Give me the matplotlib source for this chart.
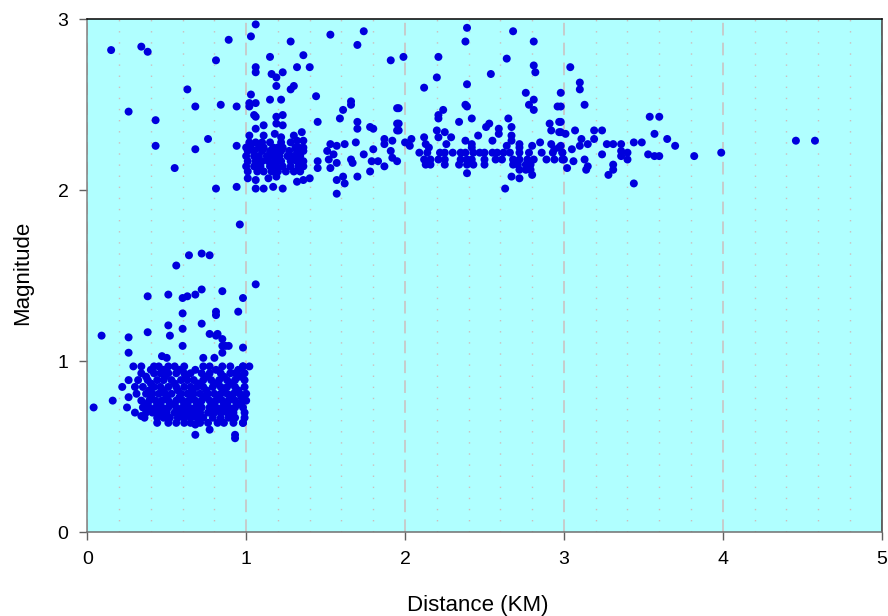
import numpy as np
import matplotlib
matplotlib.use("Agg")
import matplotlib.pyplot as plt
from matplotlib.ticker import MultipleLocator

plt.rcParams["font.family"] = ["Liberation Sans", "DejaVu Sans"]

# scattered points below 2 (near cluster)
low_sparse = [
    (0.04, 0.73), (0.16, 0.77), (0.22, 0.85), (0.26, 0.89), (0.26, 1.05), (0.26, 0.79),
    (0.25, 0.73), (0.30, 0.70), (0.34, 0.68), (0.09, 1.15), (0.26, 1.14), (0.38, 1.17),
    (0.38, 1.38), (0.51, 1.39), (0.51, 1.21), (0.52, 1.15), (0.56, 1.56), (0.64, 1.62),
    (0.72, 1.63), (0.77, 1.62), (0.60, 1.37), (0.63, 1.38), (0.68, 1.39), (0.72, 1.42),
    (0.85, 1.41), (0.98, 1.37), (1.06, 1.45), (0.60, 1.28), (0.81, 1.29), (0.81, 1.27),
    (0.95, 1.29), (0.72, 1.22), (0.60, 1.19), (0.77, 1.16), (0.81, 1.15), (0.82, 1.16),
    (0.85, 1.13), (0.60, 1.09), (0.85, 1.09), (0.89, 1.09), (0.98, 1.08), (0.47, 1.03),
    (0.50, 1.02), (0.73, 1.02), (0.80, 1.02), (0.85, 1.05), (0.87, 1.09), (0.98, 0.97),
    (1.02, 0.97), (0.68, 0.63), (0.77, 0.60), (0.68, 0.57), (0.93, 0.57), (0.93, 0.55),
    (0.98, 0.64), (0.96, 1.80),
]

# dense lower cluster, magnitude -> distances
low_rows = {
    0.97: [0.29, 0.34, 0.42, 0.45, 0.51, 0.55, 0.61, 0.73, 0.77, 0.85, 0.90, 0.98],
    0.95: [0.40, 0.48, 0.58, 0.68, 0.81, 0.95],
    0.93: [0.34, 0.42, 0.46, 0.51, 0.56, 0.61, 0.65, 0.72, 0.77, 0.84, 0.90, 0.93, 0.99],
    0.91: [0.37, 0.49, 0.62, 0.75, 0.86, 0.96],
    0.89: [0.32, 0.38, 0.44, 0.48, 0.53, 0.59, 0.63, 0.67, 0.73, 0.78, 0.83, 0.88, 0.93, 0.99],
    0.87: [0.40, 0.55, 0.70, 0.81, 0.91],
    0.85: [0.30, 0.35, 0.42, 0.46, 0.51, 0.56, 0.61, 0.65, 0.69, 0.73, 0.79, 0.84, 0.88, 0.93, 0.99],
    0.83: [0.39, 0.48, 0.57, 0.66, 0.75, 0.86, 0.95],
    0.81: [0.31, 0.37, 0.41, 0.45, 0.49, 0.53, 0.59, 0.63, 0.67, 0.71, 0.76, 0.80, 0.84, 0.88, 0.92, 0.96, 1.00],
    0.79: [0.40, 0.50, 0.58, 0.66, 0.74, 0.82, 0.90, 0.97],
    0.77: [0.34, 0.39, 0.43, 0.47, 0.51, 0.56, 0.60, 0.64, 0.68, 0.72, 0.77, 0.81, 0.85, 0.89, 0.93, 0.98, 1.00],
    0.75: [0.37, 0.45, 0.53, 0.62, 0.70, 0.79, 0.87, 0.95],
    0.73: [0.35, 0.39, 0.43, 0.47, 0.51, 0.56, 0.60, 0.64, 0.68, 0.72, 0.77, 0.81, 0.85, 0.89, 0.93, 0.98],
    0.71: [0.47, 0.57, 0.69, 0.78, 0.90],
    0.70: [0.37, 0.41, 0.45, 0.50, 0.55, 0.59, 0.63, 0.67, 0.71, 0.76, 0.80, 0.84, 0.88, 0.92, 0.99],
    0.67: [0.36, 0.44, 0.48, 0.52, 0.57, 0.61, 0.65, 0.69, 0.73, 0.79, 0.84, 0.89, 0.93, 0.99],
    0.64: [0.44, 0.51, 0.56, 0.61, 0.65, 0.71, 0.76, 0.82, 0.86, 0.92, 0.98],
}

# scattered points at 2-3, below 1 km
up_left = [
    (0.15, 2.82), (0.34, 2.84), (0.38, 2.81), (0.89, 2.88), (0.81, 2.76), (0.63, 2.59),
    (0.26, 2.46), (0.43, 2.41), (0.68, 2.49), (0.84, 2.50), (0.94, 2.49), (0.76, 2.30),
    (0.43, 2.26), (0.68, 2.24), (0.94, 2.26), (0.55, 2.13), (0.81, 2.01), (0.94, 2.02),
]

# 1-2 km band
band_1_2 = [
    (1.06, 2.97), (1.03, 2.90), (1.28, 2.87), (1.53, 2.91), (1.74, 2.93), (1.70, 2.85),
    (1.91, 2.76), (1.15, 2.78), (1.36, 2.79), (1.06, 2.72), (1.06, 2.69), (1.32, 2.72),
    (1.40, 2.72), (1.16, 2.68), (1.19, 2.66), (1.23, 2.69), (1.19, 2.61), (1.28, 2.59),
    (1.30, 2.61), (1.03, 2.56), (1.44, 2.55), (1.15, 2.53), (1.22, 2.53), (1.02, 2.51),
    (1.06, 2.51), (1.66, 2.52), (1.66, 2.50), (1.02, 2.49), (1.95, 2.48), (1.05, 2.44),
    (1.06, 2.43), (1.19, 2.43), (1.23, 2.44), (1.61, 2.47), (1.59, 2.42), (1.45, 2.40),
    (1.70, 2.40), (1.95, 2.39), (1.11, 2.38), (1.19, 2.39), (1.23, 2.38), (1.06, 2.36),
    (1.70, 2.36), (1.78, 2.37), (1.80, 2.36), (1.95, 2.35), (1.02, 2.32), (1.11, 2.32),
    (1.18, 2.33), (1.22, 2.31), (1.30, 2.32), (1.35, 2.34), (1.32, 2.29), (1.36, 2.29),
    (1.53, 2.27), (1.57, 2.26), (1.62, 2.27), (1.69, 2.28), (1.87, 2.30), (1.92, 2.29),
    (1.87, 2.27), (1.51, 2.23), (1.55, 2.21), (1.45, 2.17), (1.45, 2.13), (1.52, 2.18),
    (1.53, 2.13), (1.57, 2.16), (1.66, 2.18), (1.67, 2.16), (1.74, 2.21), (1.80, 2.24),
    (1.79, 2.17), (1.83, 2.17), (1.87, 2.14), (1.91, 2.23), (1.92, 2.19), (1.95, 2.17),
    (1.78, 2.11), (1.70, 2.08), (1.57, 2.06), (1.61, 2.08), (1.62, 2.04), (1.57, 1.98),
    (1.40, 2.07), (1.36, 2.06), (1.32, 2.05), (1.23, 2.01), (1.17, 2.02), (1.11, 2.01),
    (1.06, 2.01), (1.01, 2.07), (1.06, 2.06), (1.14, 2.07), (1.19, 2.08),
]

band_rows = {
    2.28: [1.02, 1.06, 1.10, 1.15, 1.22, 1.28],
    2.25: [1.00, 1.03, 1.08, 1.11, 1.17, 1.20, 1.23, 1.31, 1.33, 1.36],
    2.23: [1.01, 1.05, 1.10, 1.15, 1.19, 1.22, 1.27, 1.32, 1.36],
    2.20: [1.00, 1.05, 1.08, 1.13, 1.17, 1.21, 1.26, 1.30, 1.34],
    2.17: [1.01, 1.06, 1.10, 1.14, 1.18, 1.22, 1.28, 1.32, 1.36],
    2.14: [1.00, 1.05, 1.09, 1.15, 1.19, 1.23, 1.28, 1.33, 1.36],
    2.11: [1.01, 1.07, 1.11, 1.16, 1.20, 1.25, 1.30, 1.34],
    # 2-3 km band
    2.22: [2.09, 2.14, 2.22, 2.25, 2.30, 2.35, 2.38, 2.43, 2.47, 2.50, 2.55, 2.58,
           2.62, 2.66, 2.72, 2.78, 2.86, 2.93, 2.99],
    2.18: [2.12, 2.16, 2.21, 2.25, 2.35, 2.39, 2.42, 2.50, 2.57, 2.61, 2.68, 2.72,
           2.77, 2.81, 2.89, 2.94, 3.00],
    2.15: [2.13, 2.16, 2.25, 2.34, 2.39, 2.43, 2.50, 2.68, 2.71, 2.76, 2.79],
}

# 2-3 km band, scattered
band_2_3 = [
    (2.39, 2.95), (2.38, 2.87), (2.68, 2.93), (2.81, 2.87), (1.99, 2.78), (2.21, 2.78),
    (2.64, 2.77), (2.81, 2.73), (2.82, 2.69), (2.20, 2.66), (2.54, 2.68), (2.39, 2.62),
    (2.12, 2.60), (2.76, 2.57), (2.98, 2.57), (2.38, 2.50), (2.39, 2.49), (1.96, 2.48),
    (2.24, 2.47), (2.21, 2.44), (2.21, 2.42), (2.78, 2.50), (2.81, 2.53), (2.81, 2.47),
    (2.96, 2.49), (2.42, 2.42), (2.34, 2.40), (1.96, 2.39), (1.96, 2.35), (2.65, 2.42),
    (2.67, 2.37), (2.53, 2.39), (2.51, 2.37), (2.59, 2.36), (2.91, 2.39), (2.97, 2.40),
    (2.92, 2.35), (2.97, 2.34), (2.20, 2.35), (2.25, 2.34), (2.21, 2.31), (2.29, 2.31),
    (2.46, 2.32), (2.55, 2.29), (2.59, 2.33), (2.67, 2.32), (2.00, 2.28), (2.04, 2.30),
    (2.03, 2.26), (2.12, 2.31), (2.13, 2.27), (2.15, 2.25), (2.26, 2.27), (2.38, 2.29),
    (2.42, 2.27), (2.42, 2.25), (2.67, 2.29), (2.64, 2.26), (2.72, 2.27), (2.72, 2.25),
    (2.80, 2.26), (2.85, 2.28), (2.92, 2.27), (2.97, 2.25), (2.94, 2.24), (2.72, 2.12),
    (2.76, 2.12), (2.79, 2.12), (2.39, 2.10), (2.67, 2.08), (2.72, 2.07), (2.80, 2.09),
    (2.63, 2.01),
]

# beyond 3 km
far = [
    (3.04, 2.72), (3.10, 2.63), (3.10, 2.59), (3.13, 2.50), (2.98, 2.49), (2.98, 2.40),
    (2.98, 2.34), (3.01, 2.33), (3.07, 2.35), (3.19, 2.35), (3.24, 2.35), (3.19, 2.30),
    (3.15, 2.27), (3.11, 2.30), (3.10, 2.26), (3.05, 2.24), (2.98, 2.26), (2.99, 2.22),
    (2.99, 2.18), (3.06, 2.17), (3.13, 2.18), (3.15, 2.14), (3.14, 2.12), (3.02, 2.13),
    (3.24, 2.21), (3.27, 2.27), (3.31, 2.27), (3.36, 2.27), (3.36, 2.23), (3.40, 2.22),
    (3.36, 2.20), (3.40, 2.18), (3.31, 2.15), (3.31, 2.12), (3.28, 2.09), (3.44, 2.28),
    (3.49, 2.28), (3.44, 2.04), (3.54, 2.43), (3.60, 2.43), (3.57, 2.33), (3.65, 2.30),
    (3.70, 2.26), (3.53, 2.21), (3.57, 2.20), (3.60, 2.20), (3.82, 2.20), (3.99, 2.22),
    (4.46, 2.29), (4.58, 2.29),
]

pts = low_sparse + up_left + band_1_2 + band_2_3 + far
for rows in (low_rows, band_rows):
    for m, ds in rows.items():
        pts += [(d, m) for d in ds]
dist = np.array([p[0] for p in pts])
mag = np.array([p[1] for p in pts])

fig = plt.figure(figsize=(8.88, 6.16), dpi=100)
ax = fig.add_axes([0.0983, 0.1359, 0.8946, 0.8328])
ax.set_facecolor("#B0FFFF")

ax.scatter(dist, mag, s=33, color="#0000DD", edgecolors="none", zorder=3)

ax.set_xlim(0, 5)
ax.set_ylim(0, 3)
ax.xaxis.set_major_locator(MultipleLocator(1))
ax.xaxis.set_minor_locator(MultipleLocator(0.2))
ax.yaxis.set_major_locator(MultipleLocator(1))

ax.grid(True, which="major", axis="x", color="#C8C8C8", lw=1.3, ls=(0, (7, 4)))
ax.grid(True, which="minor", axis="x", color="#CDBDBD", lw=1.0, ls=(0, (1, 7)))
ax.set_axisbelow(True)

for side, c in [("left", "#808080"), ("bottom", "#707070"), ("top", "#000000"), ("right", "#404040")]:
    ax.spines[side].set_color(c)
    ax.spines[side].set_linewidth(1.1)

ax.tick_params(which="major", direction="out", length=5.5, width=1, color="#606060",
               labelsize=14, labelcolor="#000000")
ax.tick_params(axis="x", which="major", pad=8)
ax.tick_params(axis="y", which="major", pad=8)
ax.tick_params(which="minor", length=0)

ax.set_xlabel("Distance (KM)", fontsize=16, va="center")
ax.set_ylabel("Magnitude", fontsize=16, va="center")
ax.xaxis.set_label_coords(0.492, -0.142)
ax.yaxis.set_label_coords(-0.082, 0.506)

fig.savefig("out.png", dpi=100)
